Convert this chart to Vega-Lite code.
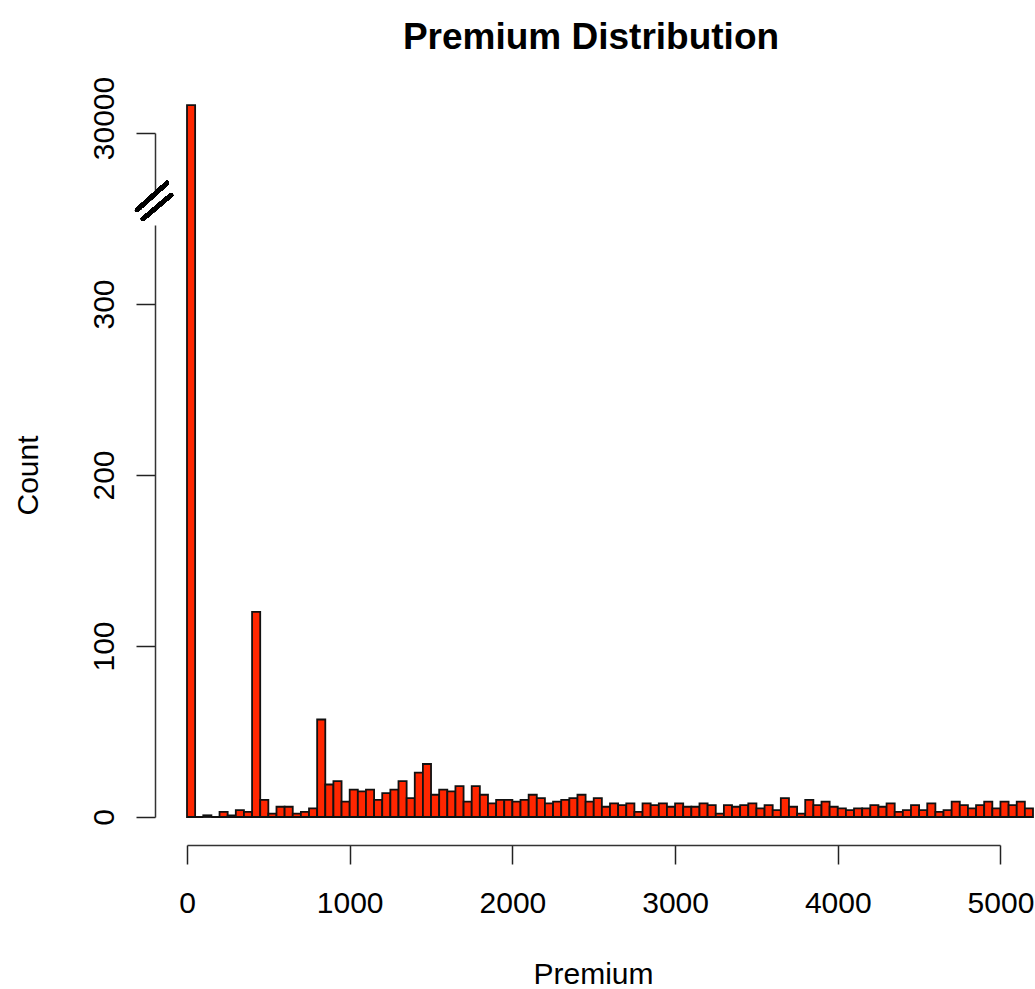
{
  "$schema": "https://vega.github.io/schema/vega-lite/v6.json",
  "width": 846,
  "height": 743,
  "autosize": {"type": "none"},
  "padding": {"left": 187, "top": 74, "right": 2, "bottom": 172},
  "background": "white",
  "title": {
    "text": "Premium Distribution",
    "font": "Liberation Sans",
    "fontSize": 37,
    "fontWeight": "bold",
    "color": "black",
    "anchor": "middle",
    "dx": -19,
    "dy": 37,
    "baseline": "alphabetic",
    "offset": 25
  },
  "config": {"view": {"stroke": null}},
  "data": {
    "values": [
      {"start": 0, "end": 50, "count": 30142},
      {"start": 50, "end": 100, "count": 0},
      {"start": 100, "end": 150, "count": 1},
      {"start": 150, "end": 200, "count": 0},
      {"start": 200, "end": 250, "count": 3},
      {"start": 250, "end": 300, "count": 1},
      {"start": 300, "end": 350, "count": 4},
      {"start": 350, "end": 400, "count": 3},
      {"start": 400, "end": 450, "count": 120},
      {"start": 450, "end": 500, "count": 10},
      {"start": 500, "end": 550, "count": 2},
      {"start": 550, "end": 600, "count": 6},
      {"start": 600, "end": 650, "count": 6},
      {"start": 650, "end": 700, "count": 2},
      {"start": 700, "end": 750, "count": 3},
      {"start": 750, "end": 800, "count": 5},
      {"start": 800, "end": 850, "count": 57},
      {"start": 850, "end": 900, "count": 19},
      {"start": 900, "end": 950, "count": 21},
      {"start": 950, "end": 1000, "count": 9},
      {"start": 1000, "end": 1050, "count": 16},
      {"start": 1050, "end": 1100, "count": 15},
      {"start": 1100, "end": 1150, "count": 16},
      {"start": 1150, "end": 1200, "count": 10},
      {"start": 1200, "end": 1250, "count": 14},
      {"start": 1250, "end": 1300, "count": 16},
      {"start": 1300, "end": 1350, "count": 21},
      {"start": 1350, "end": 1400, "count": 11},
      {"start": 1400, "end": 1450, "count": 26},
      {"start": 1450, "end": 1500, "count": 31},
      {"start": 1500, "end": 1550, "count": 13},
      {"start": 1550, "end": 1600, "count": 16},
      {"start": 1600, "end": 1650, "count": 15},
      {"start": 1650, "end": 1700, "count": 18},
      {"start": 1700, "end": 1750, "count": 9},
      {"start": 1750, "end": 1800, "count": 18},
      {"start": 1800, "end": 1850, "count": 13},
      {"start": 1850, "end": 1900, "count": 8},
      {"start": 1900, "end": 1950, "count": 10},
      {"start": 1950, "end": 2000, "count": 10},
      {"start": 2000, "end": 2050, "count": 9},
      {"start": 2050, "end": 2100, "count": 10},
      {"start": 2100, "end": 2150, "count": 13},
      {"start": 2150, "end": 2200, "count": 11},
      {"start": 2200, "end": 2250, "count": 8},
      {"start": 2250, "end": 2300, "count": 9},
      {"start": 2300, "end": 2350, "count": 10},
      {"start": 2350, "end": 2400, "count": 11},
      {"start": 2400, "end": 2450, "count": 13},
      {"start": 2450, "end": 2500, "count": 9},
      {"start": 2500, "end": 2550, "count": 11},
      {"start": 2550, "end": 2600, "count": 6},
      {"start": 2600, "end": 2650, "count": 8},
      {"start": 2650, "end": 2700, "count": 7},
      {"start": 2700, "end": 2750, "count": 8},
      {"start": 2750, "end": 2800, "count": 3},
      {"start": 2800, "end": 2850, "count": 8},
      {"start": 2850, "end": 2900, "count": 7},
      {"start": 2900, "end": 2950, "count": 8},
      {"start": 2950, "end": 3000, "count": 6},
      {"start": 3000, "end": 3050, "count": 8},
      {"start": 3050, "end": 3100, "count": 6},
      {"start": 3100, "end": 3150, "count": 6},
      {"start": 3150, "end": 3200, "count": 8},
      {"start": 3200, "end": 3250, "count": 7},
      {"start": 3250, "end": 3300, "count": 2},
      {"start": 3300, "end": 3350, "count": 7},
      {"start": 3350, "end": 3400, "count": 6},
      {"start": 3400, "end": 3450, "count": 7},
      {"start": 3450, "end": 3500, "count": 8},
      {"start": 3500, "end": 3550, "count": 5},
      {"start": 3550, "end": 3600, "count": 7},
      {"start": 3600, "end": 3650, "count": 4},
      {"start": 3650, "end": 3700, "count": 11},
      {"start": 3700, "end": 3750, "count": 6},
      {"start": 3750, "end": 3800, "count": 2},
      {"start": 3800, "end": 3850, "count": 10},
      {"start": 3850, "end": 3900, "count": 7},
      {"start": 3900, "end": 3950, "count": 9},
      {"start": 3950, "end": 4000, "count": 6},
      {"start": 4000, "end": 4050, "count": 5},
      {"start": 4050, "end": 4100, "count": 4},
      {"start": 4100, "end": 4150, "count": 5},
      {"start": 4150, "end": 4200, "count": 5},
      {"start": 4200, "end": 4250, "count": 7},
      {"start": 4250, "end": 4300, "count": 6},
      {"start": 4300, "end": 4350, "count": 8},
      {"start": 4350, "end": 4400, "count": 3},
      {"start": 4400, "end": 4450, "count": 4},
      {"start": 4450, "end": 4500, "count": 7},
      {"start": 4500, "end": 4550, "count": 4},
      {"start": 4550, "end": 4600, "count": 8},
      {"start": 4600, "end": 4650, "count": 3},
      {"start": 4650, "end": 4700, "count": 4},
      {"start": 4700, "end": 4750, "count": 9},
      {"start": 4750, "end": 4800, "count": 7},
      {"start": 4800, "end": 4850, "count": 5},
      {"start": 4850, "end": 4900, "count": 7},
      {"start": 4900, "end": 4950, "count": 9},
      {"start": 4950, "end": 5000, "count": 5},
      {"start": 5000, "end": 5050, "count": 9},
      {"start": 5050, "end": 5100, "count": 7},
      {"start": 5100, "end": 5150, "count": 9},
      {"start": 5150, "end": 5200, "count": 5}
    ]
  },
  "layer": [
    {
      "mark": {"type": "bar", "fill": "#FF2600", "stroke": "#111111", "strokeWidth": 1.8},
      "encoding": {
        "x": {
          "field": "start",
          "type": "quantitative",
          "scale": {"domain": [0, 5200], "nice": false, "zero": false},
          "axis": {
            "title": "Premium",
            "values": [0, 1000, 2000, 3000, 4000, 5000],
            "format": "d",
            "grid": false,
            "offset": 28,
            "tickSize": 19,
            "tickWidth": 1.5,
            "tickColor": "#222",
            "domainColor": "#333",
            "domainWidth": 1.5,
            "domainDash": [813, 1000],
            "labelFont": "Liberation Sans",
            "labelFontSize": 30,
            "labelColor": "black",
            "labelBaseline": "alphabetic",
            "labelPadding": 48,
            "labelFlush": false,
            "labelOverlap": false,
            "titleFont": "Liberation Sans",
            "titleFontSize": 30,
            "titleFontWeight": "normal",
            "titleColor": "black",
            "titleBaseline": "alphabetic",
            "titleAlign": "center",
            "titleX": 406,
            "titleY": 138
          }
        },
        "x2": {"field": "end"},
        "y": {
          "field": "count",
          "type": "quantitative",
          "scale": {"domain": [0, 346, 29690, 30300], "range": [743, 151.3, 120, 0], "nice": false, "zero": false},
          "axis": {
            "title": "Count",
            "values": [0, 100, 200, 300, 30000],
            "format": "d",
            "grid": false,
            "offset": 32,
            "tickSize": 19,
            "tickWidth": 1.5,
            "tickColor": "#222",
            "domainColor": "#333",
            "domainWidth": 1.5,
            "domainDash": [592, 31, 61, 1000],
            "labelFont": "Liberation Sans",
            "labelFontSize": 30,
            "labelColor": "black",
            "labelAngle": -90,
            "labelAlign": "center",
            "labelBaseline": "alphabetic",
            "labelPadding": 23,
            "labelFlush": false,
            "labelOverlap": false,
            "labelOffset": {"condition": {"test": "datum.value == 30000", "value": -15}, "value": 0},
            "titleFont": "Liberation Sans",
            "titleFontSize": 30,
            "titleFontWeight": "normal",
            "titleColor": "black",
            "titleAngle": -90,
            "titleBaseline": "alphabetic",
            "titleAlign": "center",
            "titleX": -118,
            "titleY": 401
          }
        },
        "y2": {"datum": 0}
      }
    },
    {
      "mark": {"type": "rule", "color": "black", "strokeWidth": 4, "strokeCap": "round"},
      "encoding": {
        "x": {"datum": -307},
        "x2": {"datum": -123},
        "y": {"datum": 14690},
        "y2": {"datum": 29746}
      }
    },
    {
      "mark": {"type": "rule", "color": "black", "strokeWidth": 4, "strokeCap": "round"},
      "encoding": {
        "x": {"datum": -271},
        "x2": {"datum": -98},
        "y": {"datum": 6252},
        "y2": {"datum": 28753}
      }
    }
  ]
}
